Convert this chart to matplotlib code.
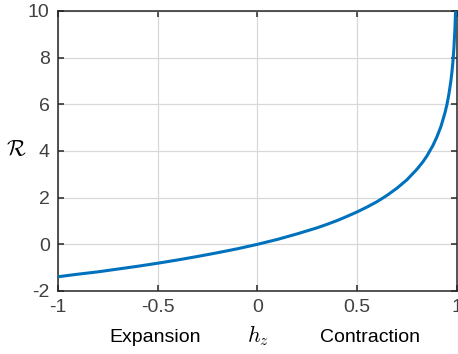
import matplotlib
matplotlib.use("Agg")
import matplotlib.pyplot as plt

# values
h_z = [-1.0, -0.9, -0.8, -0.7, -0.6, -0.5, -0.4, -0.3, -0.2, -0.1, 0.0,
       0.1, 0.2, 0.3, 0.35, 0.4, 0.45, 0.5, 0.55, 0.6, 0.65, 0.7, 0.75,
       0.8, 0.83, 0.85, 0.88, 0.9, 0.92, 0.94, 0.95, 0.96, 0.97, 0.975,
       0.98, 0.985, 0.99, 0.993, 0.995]
R = [-1.39, -1.28, -1.18, -1.06, -0.94, -0.81, -0.67, -0.52, -0.36, -0.19, 0.0,
     0.21, 0.45, 0.71, 0.86, 1.02, 1.20, 1.39, 1.60, 1.83, 2.10, 2.41, 2.77,
     3.22, 3.54, 3.79, 4.24, 4.61, 5.05, 5.63, 5.99, 6.44, 7.01, 7.38,
     7.82, 8.40, 9.21, 9.92, 10.6]

x_ticks = [-1, -0.5, 0, 0.5, 1]
x_tick_labels = ['-1', '-0.5', '0', '0.5', '1']
y_ticks = [-2, 0, 2, 4, 6, 8, 10]

plt.rcParams['font.family'] = ['Liberation Sans', 'DejaVu Sans']
plt.rcParams['mathtext.fontset'] = 'cm'
plt.rcParams['axes.unicode_minus'] = False

fig = plt.figure(figsize=(4.58, 3.54), dpi=100)
ax = fig.add_axes([0.1266, 0.178, 0.871, 0.791])

ax.plot(h_z, R, color='#0072BD', lw=2.2, zorder=3)

ax.set_xlim(-1, 1)
ax.set_ylim(-2, 10)
ax.set_xticks(x_ticks)
ax.set_xticklabels(x_tick_labels)
ax.set_yticks(y_ticks)

ax.grid(True, color='#d8d8d8', lw=0.9)
ax.set_axisbelow(True)
for s in ax.spines.values():
    s.set_color('#262626')
    s.set_linewidth(1.1)
ax.tick_params(direction='in', length=4, width=1.1, color='#262626',
               top=True, right=True, labelsize=14, labelcolor='#404040')
ax.tick_params(axis='x', pad=6)
ax.tick_params(axis='y', pad=6)

ax.set_ylabel(r'$\mathcal{R}$', rotation=0, fontsize=16, va='center')
ax.yaxis.set_label_coords(-0.105, 0.5)
fig.text(258 / 458, 1 - 336 / 354, r'$h_z$', fontsize=16, ha='center', va='center')
fig.text(155 / 458, 1 - 337 / 354, 'Expansion', fontsize=14, ha='center', va='center')
fig.text(370 / 458, 1 - 337 / 354, 'Contraction', fontsize=14, ha='center', va='center')

fig.savefig('out.png', dpi=100)
